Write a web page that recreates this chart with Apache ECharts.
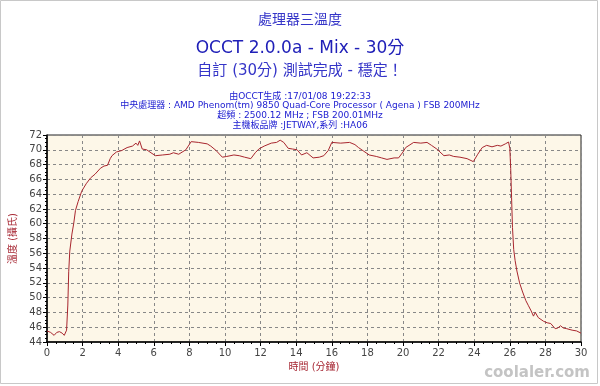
<!DOCTYPE html>
<html><head><meta charset="utf-8">
<script src="https://cdn.jsdelivr.net/npm/echarts@6/dist/echarts.min.js"></script>
<style>html,body{margin:0;padding:0;background:#fff}#c{width:600px;height:386px}</style>
</head><body><div id="c"></div>
<script>
const minutes = [0.0,0.2,0.4,0.55,0.7,0.85,0.97,1.1,1.17,1.22,1.28,1.4,1.5,1.6,1.75,1.95,2.2,2.45,2.7,3.0,3.2,3.4,3.55,3.65,3.9,4.2,4.5,4.8,5.0,5.1,5.2,5.35,5.6,5.9,6.1,6.5,6.9,7.1,7.4,7.8,8.1,8.5,9.0,9.2,9.5,9.85,10.1,10.5,10.8,11.1,11.45,11.7,11.9,12.2,12.6,12.9,13.1,13.3,13.55,13.8,14.05,14.3,14.6,14.95,15.3,15.55,15.8,16.0,16.5,17.0,17.3,17.5,17.8,18.1,18.5,18.8,19.1,19.5,19.75,20.0,20.15,20.6,21.0,21.35,21.6,21.9,22.3,22.6,22.85,23.2,23.6,23.95,24.2,24.45,24.7,25.0,25.3,25.5,25.75,25.93,26.0,26.05,26.1,26.15,26.22,26.3,26.4,26.55,26.7,26.9,27.05,27.2,27.33,27.43,27.6,27.9,28.1,28.3,28.55,28.7,28.85,29.0,29.2,29.5,29.75,30.0];
const temps = [45.5,45.3,44.9,45.3,45.4,45.2,44.9,45.6,49.0,53.5,56.3,58.6,60.0,61.8,63.0,64.4,65.4,66.2,66.7,67.5,67.8,67.9,68.8,69.2,69.7,69.9,70.3,70.5,70.9,70.6,71.2,70.1,70.0,69.5,69.2,69.3,69.4,69.6,69.4,70.0,71.1,71.0,70.8,70.5,69.9,69.0,69.1,69.3,69.2,69.0,68.8,69.6,70.1,70.5,70.9,71.0,71.3,71.0,70.2,70.1,70.0,69.3,69.6,68.9,69.0,69.2,69.9,71.0,70.9,71.0,70.7,70.3,69.8,69.3,69.1,68.9,68.7,68.9,68.9,69.7,70.3,71.0,70.9,71.0,70.6,70.1,69.2,69.3,69.1,69.0,68.8,68.4,69.4,70.3,70.6,70.4,70.6,70.5,70.8,71.05,70.2,67.5,63.5,59.5,56.5,55.0,53.6,52.0,50.9,49.6,48.9,48.2,47.5,48.0,47.3,46.8,46.6,46.5,45.8,45.9,46.2,45.9,45.8,45.6,45.5,45.2];
const titleLines = ['處理器三溫度','OCCT 2.0.0a - Mix - 30分','自訂 (30分) 測試完成 - 穩定！'];
const infoLines = ['由OCCT生成 :17/01/08 19:22:33','中央處理器 : AMD Phenom(tm) 9850 Quad-Core Processor ( Agena ) FSB 200MHz','超頻 : 2500.12 MHz ; FSB 200.01MHz','主機板品牌 :JETWAY,系列 :HA06'];
const xName = '時間 (分鐘)';
const yName = '溫度 (攝氏)';

const chart = echarts.init(document.getElementById('c'), null, {renderer:'canvas'});
const font = 'Tahoma, "DejaVu Sans", "Noto Sans CJK TC", sans-serif';
chart.setOption({
  animation:false,
  backgroundColor:'#fff',
  title:[
    {text:titleLines[0], left:'center', top:8, textStyle:{color:'#3535c8', fontSize:14, fontWeight:'normal', fontFamily:font}},
    {text:titleLines[1], left:'center', top:35, textStyle:{color:'#2020b8', fontSize:17, fontWeight:'normal', fontFamily:font}},
    {text:titleLines[2], left:'center', top:59, textStyle:{color:'#3535c8', fontSize:15, fontWeight:'normal', fontFamily:font}},
    {text:infoLines[0], left:'center', top:87, textStyle:{color:'#1a1ad0', fontSize:9, fontWeight:'normal', fontFamily:font}},
    {text:infoLines[1], left:'center', top:96, textStyle:{color:'#1a1ad0', fontSize:9, fontWeight:'normal', fontFamily:font}},
    {text:infoLines[2], left:'center', top:106, textStyle:{color:'#1a1ad0', fontSize:9, fontWeight:'normal', fontFamily:font}},
    {text:infoLines[3], left:'center', top:116, textStyle:{color:'#1a1ad0', fontSize:9, fontWeight:'normal', fontFamily:font}}
  ],
  grid:{left:47, right:19, top:135, bottom:44, show:true, backgroundColor:'#fdf7e8', borderColor:'#222', borderWidth:1},
  xAxis:{
    type:'value', min:0, max:30, interval:2,
    name:xName, nameLocation:'middle', nameGap:18,
    nameTextStyle:{color:'#a82a36', fontSize:10, fontFamily:font},
    axisLine:{lineStyle:{color:'#000', width:1.5}},
    axisTick:{show:true, length:4, lineStyle:{color:'#000'}},
    minorTick:{show:true, splitNumber:4, length:2, lineStyle:{color:'#000'}},
    axisLabel:{color:'#444', fontSize:10, fontFamily:font, margin:6},
    splitLine:{show:true, lineStyle:{color:'#888', type:[3,3]}}
  },
  yAxis:{
    type:'value', min:44, max:72, interval:2,
    name:yName, nameLocation:'middle', nameGap:23, nameRotate:90,
    nameTextStyle:{color:'#a82a36', fontSize:10, fontFamily:font},
    axisLine:{show:true, lineStyle:{color:'#000', width:1.5}},
    axisTick:{show:true, length:4, lineStyle:{color:'#000'}},
    minorTick:{show:true, splitNumber:4, length:2, lineStyle:{color:'#000'}},
    axisLabel:{color:'#444', fontSize:10, fontFamily:font, margin:5},
    splitLine:{show:true, lineStyle:{color:'#888', type:[3,3]}}
  },
  graphic:[
    {type:'rect', shape:{x:0.5,y:0.5,width:597,height:383}, style:{fill:'none', stroke:'#c8c8c8', lineWidth:1}, silent:true},
    {type:'text', right:10, bottom:5, style:{text:'coolaler.com', fill:'#c4c4c4', font:'bold 15px "DejaVu Sans", sans-serif'}, silent:true}
  ],
  series:[{
    type:'line', data:minutes.map((m,i)=>[m,temps[i]]),
    showSymbol:false, smooth:false,
    lineStyle:{color:'#a8262e', width:1}
  }]
});
</script></body></html>
